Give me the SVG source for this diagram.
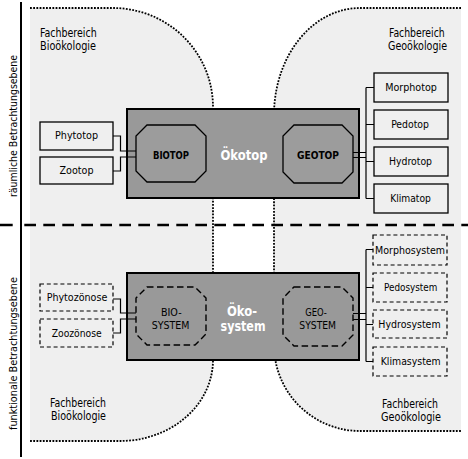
<svg xmlns="http://www.w3.org/2000/svg" width="468" height="459" viewBox="0 0 468 459">
<style>
text{font-family:'Liberation Sans Narrow','DejaVu Sans Condensed','Liberation Sans',sans-serif;font-size:11px;fill:#000}
.c{text-anchor:middle}
.b{font-weight:bold}
.w{fill:#fff;font-size:14px;font-weight:bold}
.region{fill:#efefef;stroke:none}
.dot{fill:none;stroke:#000;stroke-width:1.8;stroke-dasharray:1.8 1.4}
.main{fill:#999;stroke:#000;stroke-width:2}
.oct{fill:#9c9c9c;stroke:#000;stroke-width:1.3}
.doct{fill:none;stroke:#000;stroke-width:1.4;stroke-dasharray:6.5 3.5}
.box{fill:#efefef;stroke:#000;stroke-width:1.3}
.dbox{fill:none;stroke:#000;stroke-width:1.2;stroke-dasharray:4 2.8}
</style>
<rect width="468" height="459" fill="#fff"/>
<g id="regions">
<path class="region" d="M30,8 H113 A100,99 0 0 1 213,107 V360 A93,81 0 0 1 120,441 H30 Z"/>
<path class="region" d="M461,8 H360 A86,107 0 0 0 274,115 V345 A86,86 0 0 0 360,431 H461 Z"/>
<path class="dot" d="M30,8 H113 A100,99 0 0 1 213,107 V360 A93,81 0 0 1 120,441 H30"/>
<path class="dot" d="M461,8 H360 A86,107 0 0 0 274,115 V345 A86,86 0 0 0 360,431 H461"/>
</g>
<g id="axes">
<line x1="21" y1="2" x2="21" y2="457" stroke="#000" stroke-width="2"/>
<line x1="0" y1="225" x2="12.7" y2="225" stroke="#000" stroke-width="2.5"/>
<line x1="24.3" y1="225" x2="468" y2="225" stroke="#000" stroke-width="2.5" stroke-dasharray="11.7 7.3"/>
<text transform="translate(16.5,126) rotate(-90)" class="c" textLength="142" lengthAdjust="spacingAndGlyphs">räumliche Betrachtungsebene</text>
<text transform="translate(16.5,353.5) rotate(-90)" class="c" textLength="153" lengthAdjust="spacingAndGlyphs">funktionale Betrachtungsebene</text>
</g>
<g id="labels">
<text x="40" y="37" textLength="56.7" lengthAdjust="spacingAndGlyphs" style="font-size:11.5px">Fachbereich</text>
<text x="40" y="50" textLength="56" lengthAdjust="spacingAndGlyphs" style="font-size:11.5px">Bioökologie</text>
<text x="389" y="37" textLength="55.7" lengthAdjust="spacingAndGlyphs" style="font-size:11.5px">Fachbereich</text>
<text x="388" y="50" textLength="59" lengthAdjust="spacingAndGlyphs" style="font-size:11.5px">Geoökologie</text>
<text x="50" y="407" textLength="56" lengthAdjust="spacingAndGlyphs" style="font-size:11.5px">Fachbereich</text>
<text x="51" y="420" textLength="55" lengthAdjust="spacingAndGlyphs" style="font-size:11.5px">Bioökologie</text>
<text x="382" y="408" textLength="56" lengthAdjust="spacingAndGlyphs" style="font-size:11.5px">Fachbereich</text>
<text x="381" y="421" textLength="60" lengthAdjust="spacingAndGlyphs" style="font-size:11.5px">Geoökologie</text>
</g>
<g id="oekotop">
<rect class="main" x="127" y="109" width="232" height="89"/>
<text class="c w" x="244" y="159.5" textLength="47" lengthAdjust="spacingAndGlyphs">Ökotop</text>
</g>
<g id="oekosystem">
<rect class="main" x="127" y="273" width="232" height="87"/>
<text class="c w" x="242" y="316" textLength="30" lengthAdjust="spacingAndGlyphs">Öko-</text>
<text class="c w" x="243" y="331" textLength="45" lengthAdjust="spacingAndGlyphs">system</text>
</g>
<g id="connectors" fill="none" stroke="#000" stroke-width="1.2">
<path d="M113,136 H120.5 V151 H136"/>
<path d="M113,171 H120.5 V157 H136"/>
<path d="M353,152.5 H366 M353,157.5 H366"/>
<path d="M366,87.5 V198.5 M366,87.5 H374 M366,124.5 H374 M366,161.5 H374 M366,198.5 H374"/>
<path d="M113,299 H120.5 V313 H136"/>
<path d="M113,333 H120.5 V319 H136"/>
<path d="M353,313.5 H366 M353,319.5 H366"/>
<path d="M366,249.5 V361.5 M366,249.5 H373 M366,287.5 H373 M366,324.5 H373 M366,361.5 H373"/>
</g>
<g id="biotop">
<polygon class="oct" points="147,125 195,125 206,136 206,171 195,182 147,182 136,171 136,136"/>
<text class="c b" x="171" y="158.5" textLength="36" lengthAdjust="spacingAndGlyphs">BIOTOP</text>
</g>
<g id="geotop">
<polygon class="oct" points="294,125 342,125 353,136 353,172 342,183 294,183 283,172 283,136"/>
<text class="c b" x="318" y="158.5" textLength="42" lengthAdjust="spacingAndGlyphs">GEOTOP</text>
</g>
<g id="phytotop"><rect class="box" x="40" y="122" width="73" height="28"/><text class="c" x="76.5" y="139" textLength="43" lengthAdjust="spacingAndGlyphs">Phytotop</text></g>
<g id="zootop"><rect class="box" x="40" y="157" width="73" height="27"/><text class="c" x="76.5" y="174" textLength="34" lengthAdjust="spacingAndGlyphs">Zootop</text></g>
<g id="morphotop"><rect class="box" x="374" y="73" width="74" height="29"/><text class="c" x="411" y="91" textLength="51.7" lengthAdjust="spacingAndGlyphs">Morphotop</text></g>
<g id="pedotop"><rect class="box" x="374" y="110" width="74" height="29"/><text class="c" x="410" y="128" textLength="37.7" lengthAdjust="spacingAndGlyphs">Pedotop</text></g>
<g id="hydrotop"><rect class="box" x="374" y="147" width="74" height="29"/><text class="c" x="410.5" y="165" textLength="43" lengthAdjust="spacingAndGlyphs">Hydrotop</text></g>
<g id="klimatop"><rect class="box" x="374" y="184" width="74" height="29"/><text class="c" x="410.5" y="202" textLength="40.7" lengthAdjust="spacingAndGlyphs">Klimatop</text></g>
<g id="biosystem">
<polygon class="doct" points="147,287 195,287 206,298 206,334 195,345 147,345 136,334 136,298"/>
<text class="c" x="171.3" y="316" textLength="20.7" lengthAdjust="spacingAndGlyphs">BIO-</text>
<text class="c" x="170.5" y="329" textLength="37.7" lengthAdjust="spacingAndGlyphs">SYSTEM</text>
</g>
<g id="geosystem">
<polygon class="doct" points="294,287 342,287 353,298 353,335 342,346 294,346 283,335 283,298"/>
<text class="c" x="316" y="316" textLength="21.7" lengthAdjust="spacingAndGlyphs">GEO-</text>
<text class="c" x="317.7" y="329" textLength="36.7" lengthAdjust="spacingAndGlyphs">SYSTEM</text>
</g>
<g id="phytozoenose"><rect class="dbox" x="40" y="284" width="73" height="27"/><text class="c" x="77" y="301" textLength="60.7" lengthAdjust="spacingAndGlyphs">Phytozönose</text></g>
<g id="zoozoenose"><rect class="dbox" x="40" y="319" width="73" height="28"/><text class="c" x="76.7" y="337" textLength="50" lengthAdjust="spacingAndGlyphs">Zoozönose</text></g>
<g id="morphosystem"><rect class="dbox" x="373" y="235" width="74" height="30"/><text class="c" x="410" y="254" textLength="70" lengthAdjust="spacingAndGlyphs">Morphosystem</text></g>
<g id="pedosystem"><rect class="dbox" x="373" y="273" width="74" height="29"/><text class="c" x="410.7" y="291" textLength="53.3" lengthAdjust="spacingAndGlyphs">Pedosystem</text></g>
<g id="hydrosystem"><rect class="dbox" x="373" y="310" width="74" height="28"/><text class="c" x="409.5" y="328" textLength="62.3" lengthAdjust="spacingAndGlyphs">Hydrosystem</text></g>
<g id="klimasystem"><rect class="dbox" x="373" y="347" width="74" height="29"/><text class="c" x="410.7" y="365" textLength="60" lengthAdjust="spacingAndGlyphs">Klimasystem</text></g>
</svg>
